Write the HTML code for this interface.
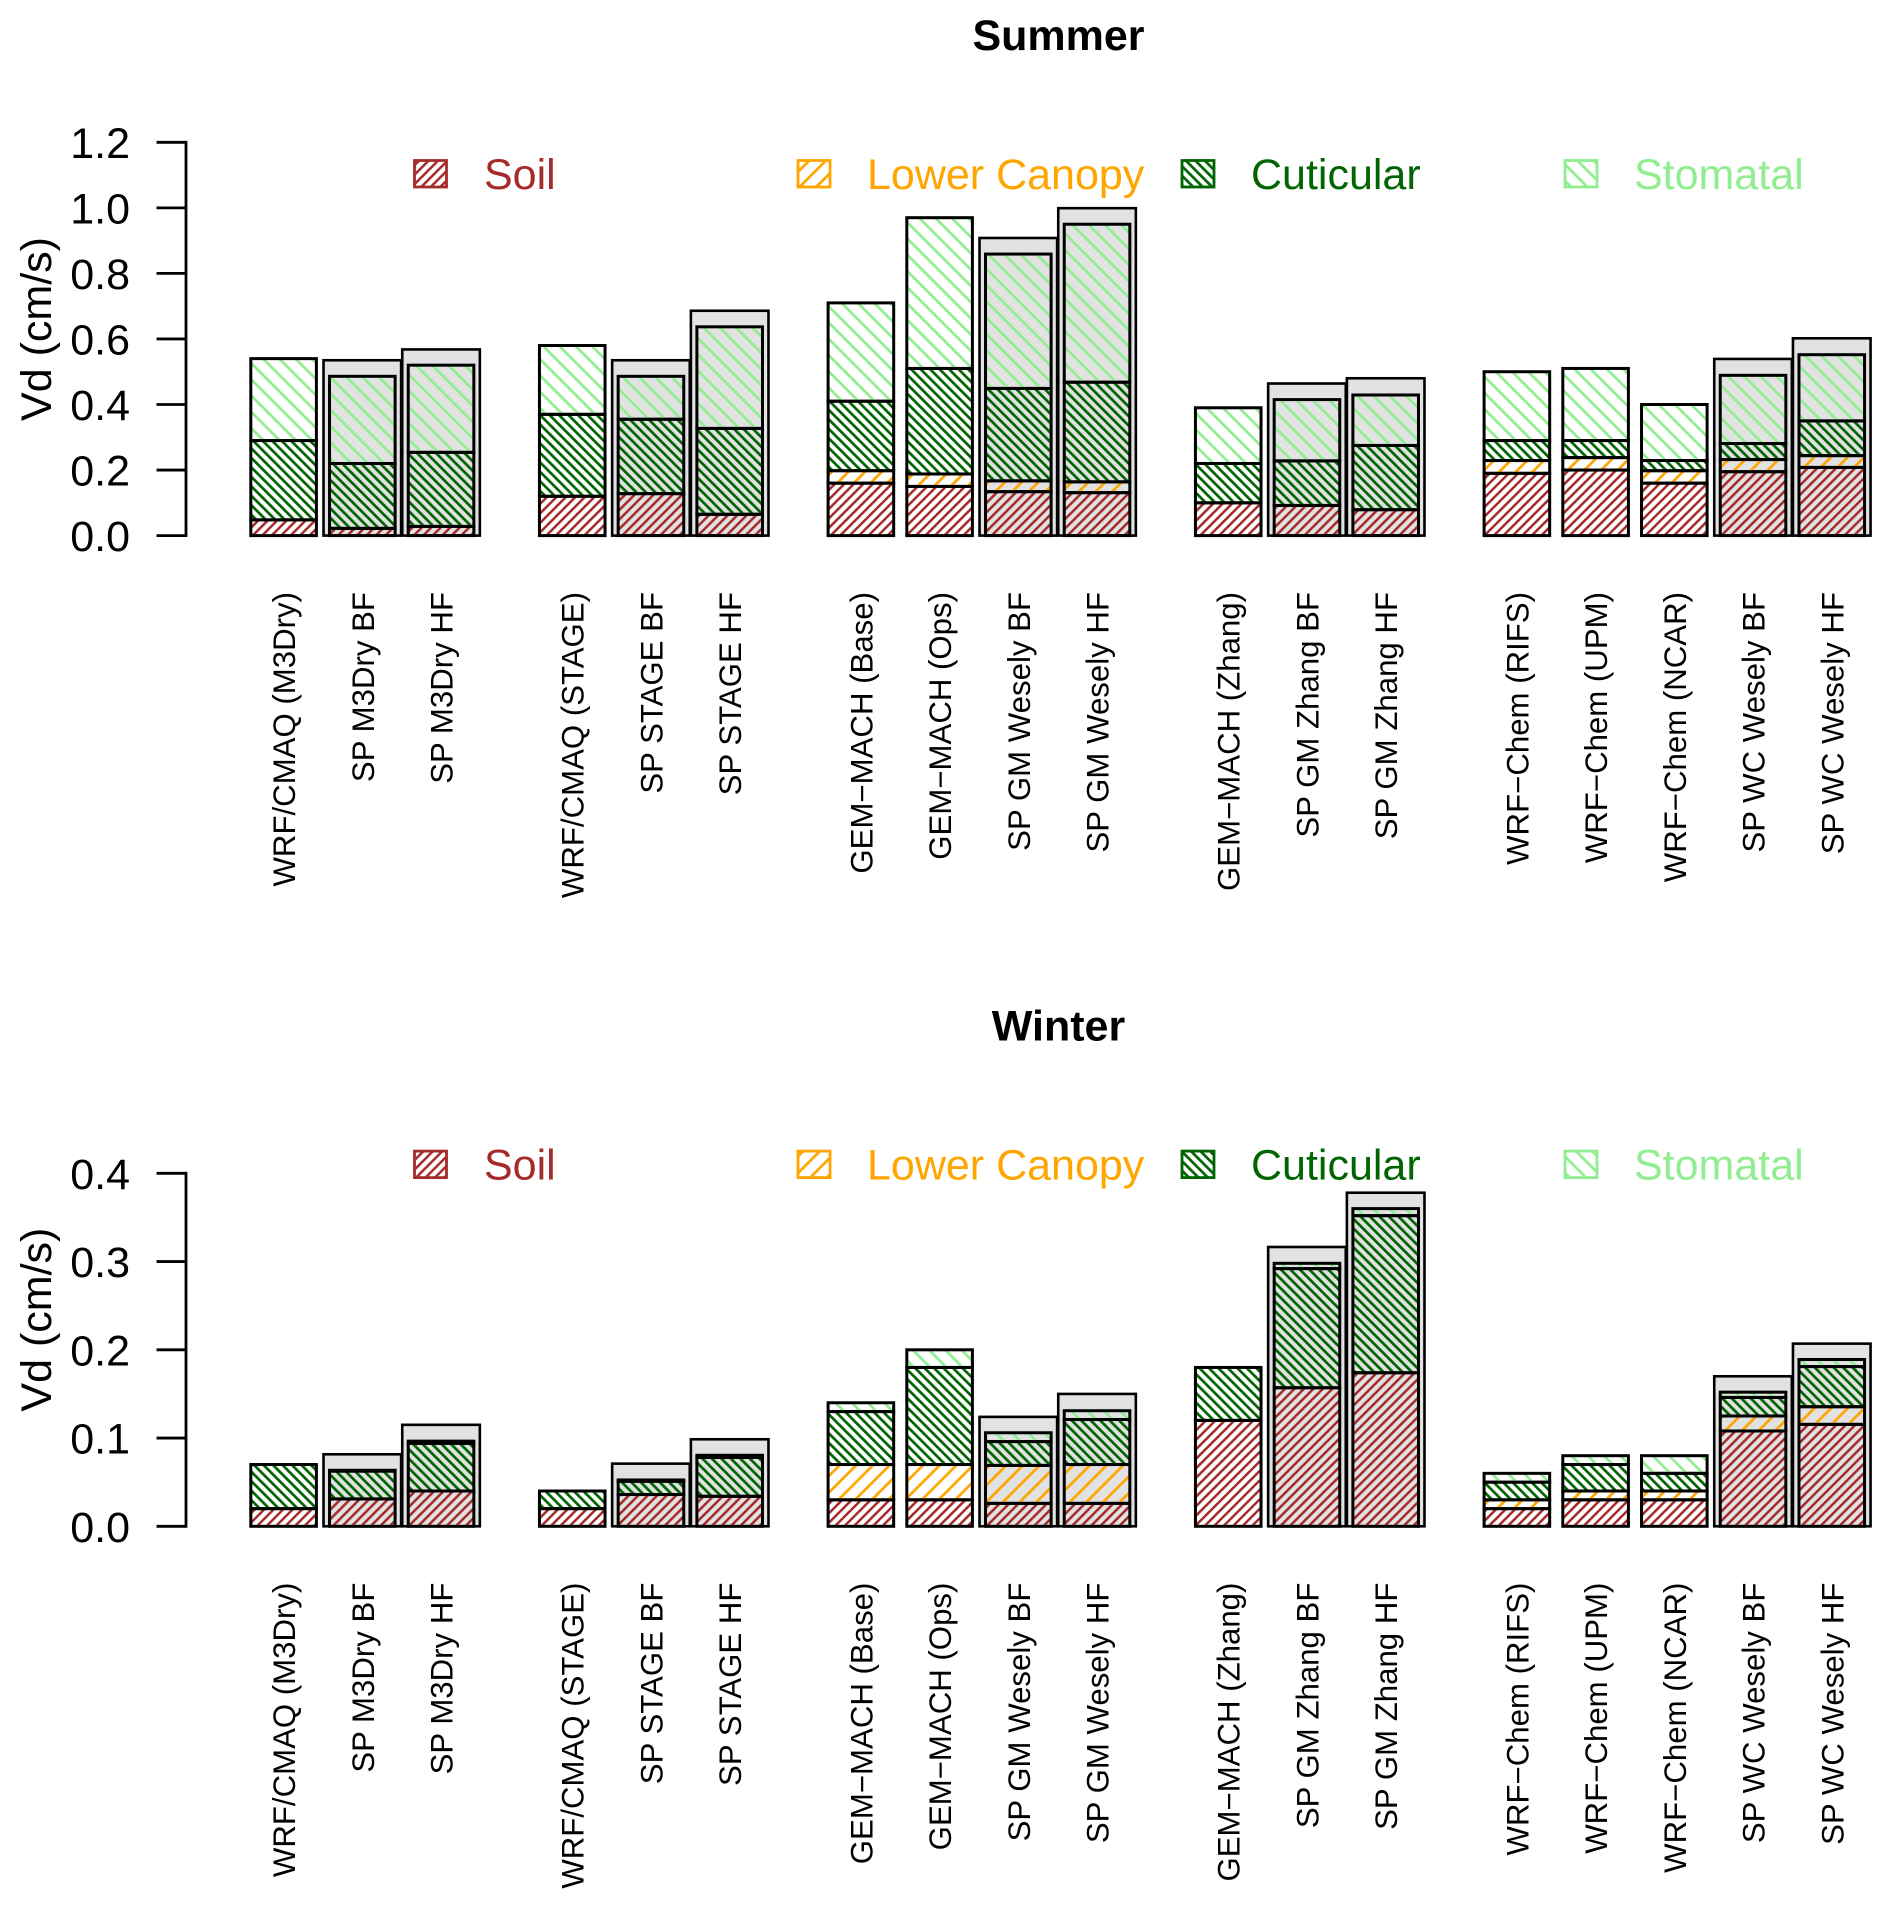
<!DOCTYPE html>
<html lang="en">
<head>
<meta charset="utf-8">
<title>Deposition velocity by model</title>
<style>
html,body{margin:0;padding:0;background:#fff;}
svg{display:block;filter:blur(0.35px);font-family:"Liberation Sans",Arial,sans-serif;}
</style>
</head>
<body>
<svg id="chart" xmlns="http://www.w3.org/2000/svg" width="1892" height="1907" viewBox="0 0 1892 1907">
<defs>
<pattern id="hatch-soil" patternUnits="userSpaceOnUse" width="6.7" height="6.7" patternTransform="rotate(45)"><rect width="2.5" height="6.7" fill="#a52a2a"/></pattern>
<pattern id="hatch-lower" patternUnits="userSpaceOnUse" width="11.8" height="11.8" patternTransform="rotate(45)"><rect width="2.7" height="11.8" fill="#ffa500"/></pattern>
<pattern id="hatch-cuticular" patternUnits="userSpaceOnUse" width="6.7" height="6.7" patternTransform="rotate(-45)"><rect width="2.7" height="6.7" fill="#006400"/></pattern>
<pattern id="hatch-stomatal" patternUnits="userSpaceOnUse" width="11.5" height="11.5" patternTransform="rotate(-45)"><rect width="2.7" height="11.5" fill="#90ee90"/></pattern>
</defs>
</svg>
<script>
var groupSizes = [3, 3, 4, 3, 5];
var modelLabels = [
  "WRF/CMAQ (M3Dry)", "SP M3Dry BF", "SP M3Dry HF",
  "WRF/CMAQ (STAGE)", "SP STAGE BF", "SP STAGE HF",
  "GEM\u2212MACH (Base)", "GEM\u2212MACH (Ops)", "SP GM Wesely BF", "SP GM Wesely HF",
  "GEM\u2212MACH (Zhang)", "SP GM Zhang BF", "SP GM Zhang HF",
  "WRF\u2212Chem (RIFS)", "WRF\u2212Chem (UPM)", "WRF\u2212Chem (NCAR)", "SP WC Wesely BF", "SP WC Wesely HF"
];

var summerSoil = [.048,.022,.028, .12,.128,.065, .16,.15,.134,.131, .10,.092,.079, .19,.20,.16,.195,.208];
var summerLower = [0,0,0, 0,0,0, .038,.038,.033,.033, 0,0,0, .039,.038,.038,.037,.036];
var summerCuticular = [.242,.198,.226, .25,.227,.262, .212,.322,.282,.304, .12,.136,.196, .061,.052,.031,.049,.106];
var summerStomatal = [.25,.266,.266, .21,.131,.31, .30,.46,.41,.482, .17,.187,.154, .21,.22,.171,.208,.202];
var summerTotal = [null,.535,.568, null,.535,.686, null,null,.908,.999, null,.464,.48, null,null,null,.539,.602];
var summerTicks = [0, 0.2, 0.4, 0.6, 0.8, 1.0, 1.2];

var winterSoil = [.02,.031,.04, .02,.036,.034, .03,.03,.026,.026, .12,.157,.174, .02,.03,.03,.108,.1155];
var winterLower = [0,0,0, 0,0,0, .04,.04,.043,.044, 0,0,0, .01,.01,.01,.017,.02];
var winterCuticular = [.05,.0315,.054, .02,.015,.044, .06,.11,.027,.051, .06,.135,.178, .02,.03,.02,.021,.0455];
var winterStomatal = [0,.001,.0025, 0,.0015,.0025, .01,.02,.01,.01, 0,.006,.008, .01,.01,.02,.006,.008];
var winterTotal = [null,.0816,.115, null,.071,.0986, null,null,.124,.15, null,.3165,.378, null,null,null,.17,.207];
var winterTicks = [0, 0.1, 0.2, 0.3, 0.4];

var legendNames = ["Soil", "Lower Canopy", "Cuticular", "Stomatal"];

var svg = document.getElementById('chart');
var NS = 'http://www.w3.org/2000/svg';

function make(tag, attrs, text) {
  var el = document.createElementNS(NS, tag);
  for (var k in attrs) { el.setAttribute(k, attrs[k]); }
  if (text !== undefined) { el.textContent = text; }
  svg.appendChild(el);
  return el;
}

function barCentre(index) {
  var seen = 0, group = 0;
  for (var g = 0; g < groupSizes.length; g++) {
    if (index < seen + groupSizes[g]) { group = g; break; }
    seen += groupSizes[g];
  }
  return 283.6 + 78.72 * (index + group * 2 / 3);
}

var layerFill = ['url(#hatch-soil)', 'url(#hatch-lower)', 'url(#hatch-cuticular)', 'url(#hatch-stomatal)'];
var layerKey = ['soil', 'lower-canopy', 'cuticular', 'stomatal'];
var legendColor = ['#a52a2a', '#ffa500', '#006400', '#90ee90'];
var legendBoxX = [414.5, 798, 1182, 1565];
var legendTextX = [484, 867, 1251, 1634];

function drawPanel(title, layers, totals, ticks, yZero, yTop, maxTick, dy) {
  function yScale(v) { return yZero - (v / maxTick) * (yZero - yTop); }

  var titleEl = make('text', {x: 1058.5, y: 50 + dy, 'text-anchor': 'middle', 'font-size': 43, 'font-weight': 'bold', fill: '#000'}, title);
  
  

  var axisEl = make('line', {x1: 186, x2: 186, y1: yScale(maxTick), y2: yScale(0), stroke: '#000', 'stroke-width': 2.8, 'stroke-linecap': 'square'});
  
  

  ticks.forEach(function (t) {
    var tickEl = make('line', {x1: 156.5, x2: 186, y1: yScale(t), y2: yScale(t), stroke: '#000', 'stroke-width': 2.8});
    
    
    var labelEl = make('text', {x: 130, y: yScale(t) + 15.5, 'text-anchor': 'end', 'font-size': 43, fill: '#000'}, t.toFixed(1));
    
    
  });

  var yMid = 329 + dy;
  var yTitle = make('text', {transform: 'translate(51,' + yMid + ') rotate(-90)', 'text-anchor': 'middle', 'font-size': 43, fill: '#000'}, 'Vd (cm/s)');
  
  

  legendNames.forEach(function (name, i) {
    var box = make('rect', {x: legendBoxX[i], y: 160.5 + dy, width: 32, height: 26.5, fill: layerFill[i], stroke: legendColor[i], 'stroke-width': 2.8});
    
    
    var txt = make('text', {x: legendTextX[i], y: 189 + dy, 'font-size': 43, fill: legendColor[i]}, name);
    
    
  });

  totals.forEach(function (total, i) {
    if (total === null) { return; }
    var c = barCentre(i);
    var grey = make('rect', {x: c - 38.8, y: yScale(total), width: 77.6, height: yZero - yScale(total), fill: '#e2e2e2', stroke: '#000', 'stroke-width': 2.6});
    
    
  });

  modelLabels.forEach(function (label, i) {
    var c = barCentre(i);
    var base = 0;
    layers.forEach(function (series, k) {
      var v = series[i];
      if (!v) { return; }
      var segY = yScale(base + v);
      var seg = make('rect', {x: c - 32.8, y: segY, width: 65.6, height: yScale(base) - segY, fill: layerFill[k], stroke: '#000', 'stroke-width': 3});
      
      
      base += v;
    });
    var bx = c + 11.5;
    var by = 592 + dy;
    var lab = make('text', {transform: 'translate(' + bx + ',' + by + ') rotate(-90)', 'text-anchor': 'end', 'font-size': 31.2, fill: '#000'}, label);
    
    
  });
}

drawPanel('Summer', [summerSoil, summerLower, summerCuticular, summerStomatal], summerTotal, summerTicks, 535.6, 142.3, 1.2, 0);
drawPanel('Winter', [winterSoil, winterLower, winterCuticular, winterStomatal], winterTotal, winterTicks, 1526.3, 1173.3, 0.4, 990.6);
</script>
</body>
</html>
